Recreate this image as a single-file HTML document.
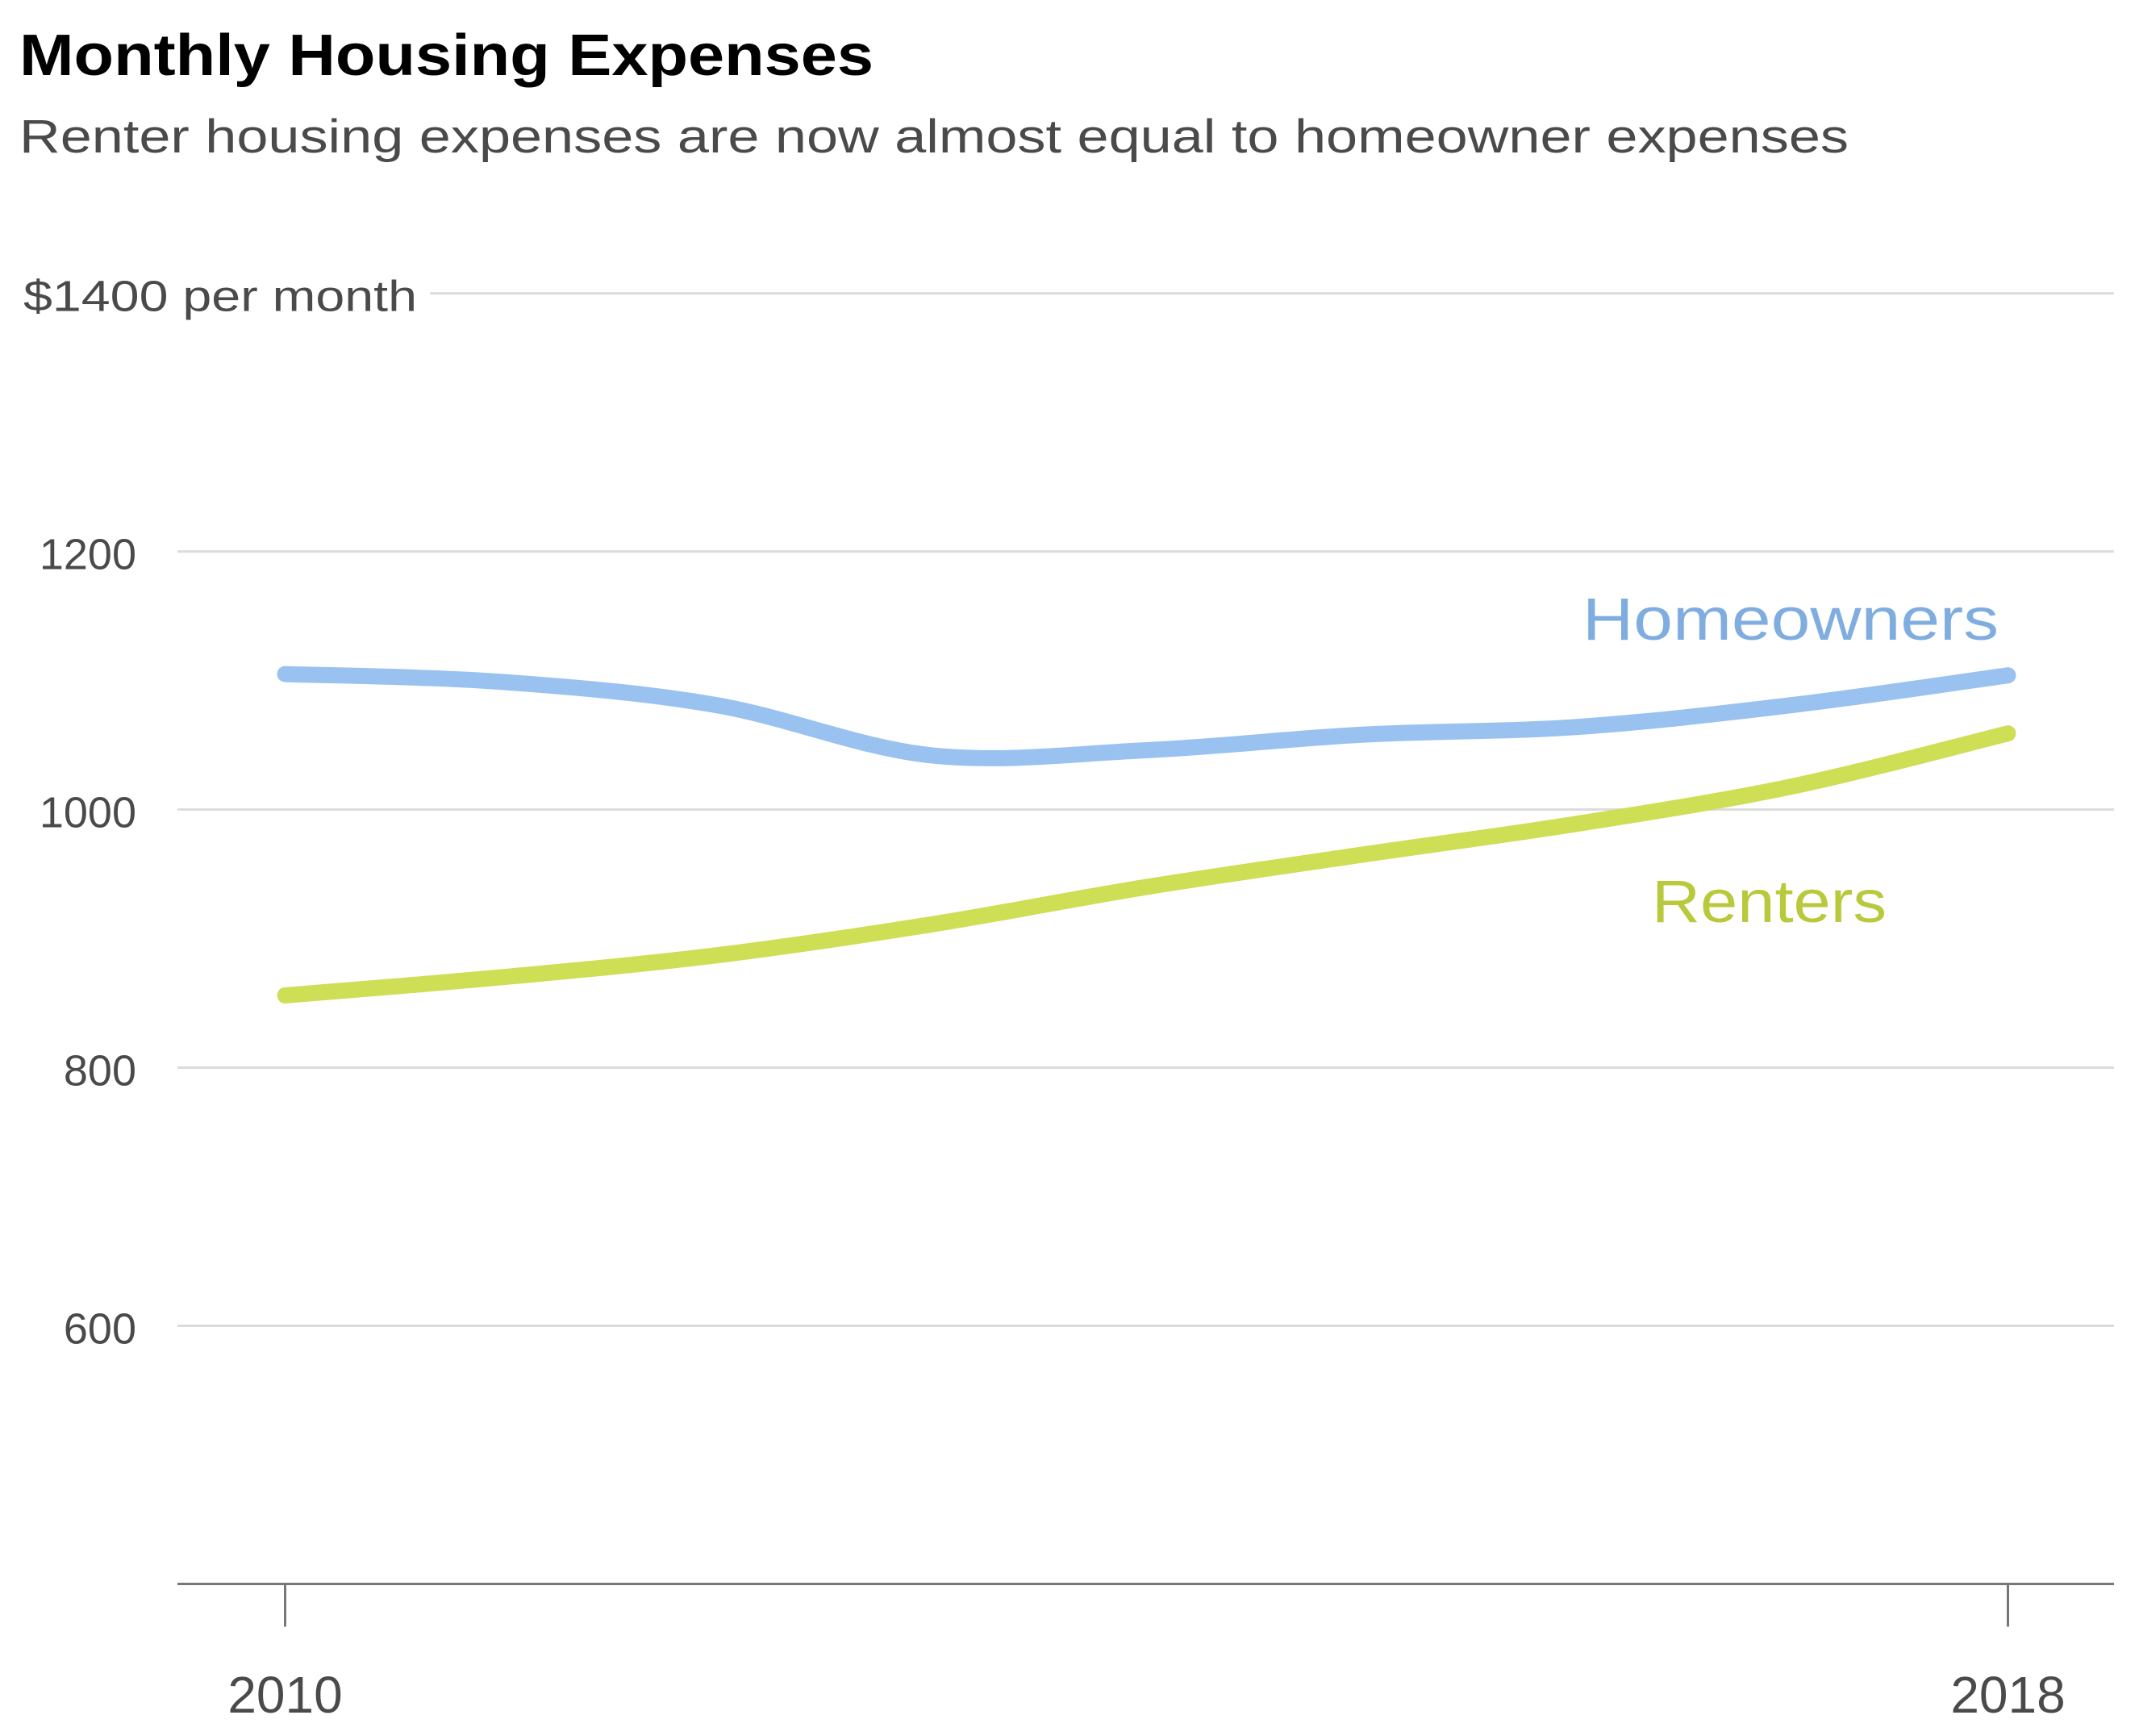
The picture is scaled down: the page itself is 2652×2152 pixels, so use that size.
<!DOCTYPE html>
<html><head><meta charset="utf-8"><style>
html,body{margin:0;padding:0;background:#fff;width:2652px;height:2152px;overflow:hidden}
svg{display:block;font-family:"Liberation Sans",sans-serif}
</style></head><body>
<svg id="chart" width="2652" height="2152" viewBox="0 0 2652 2152">
<text x="24" y="93" font-size="72" font-weight="bold" fill="#000" textLength="1059" lengthAdjust="spacingAndGlyphs">Monthly Housing Expenses</text>
<text x="24" y="189" font-size="58" fill="#4a4a4a" textLength="2268" lengthAdjust="spacingAndGlyphs">Renter housing expenses are now almost equal to homeowner expenses</text>
<g id="grid"></g>
<g id="yticks"></g>
<g id="xaxis"></g>
<g id="lines"></g>
<text x="1962" y="793" font-size="74" fill="#80addf" textLength="516" lengthAdjust="spacingAndGlyphs">Homeowners</text>
<text x="2048" y="1143" font-size="74" fill="#b9c93c" textLength="291" lengthAdjust="spacingAndGlyphs">Renters</text>
</svg>
<script>
const years = [2010,2011,2012,2013,2014,2015,2016,2017,2018];
const homeowners = [1105,1099,1081,1042,1046,1058,1064,1081,1104];
const renters = [856,870,887,911,940,965,989,1018,1059];
const yTicks = [600,800,1000,1200,1400];
const xTickLabels = [2010,2018];

const NS='http://www.w3.org/2000/svg';
const X0=353.5,X1=2489.5,Y0=1963.5,Y1=363.6;
function xs(v){return X0+(v-2010)/(2018-2010)*(X1-X0);}
function ys(v){return Y0+(v-400)/(1400-400)*(Y1-Y0);}
function mk(tag,attrs,parent){const e=document.createElementNS(NS,tag);for(const k in attrs)e.setAttribute(k,attrs[k]);parent.appendChild(e);return e;}

const grid=document.getElementById('grid'),yt=document.getElementById('yticks'),xa=document.getElementById('xaxis'),lines=document.getElementById('lines');
yTicks.forEach(v=>{
  const y=ys(v);
  const l=mk('line',{x1:v===1400?533:220,x2:2621,y1:y,y2:y,stroke:'#dcdcdc','stroke-width':3},grid);
  
  
  const t=mk('text',{x:v===1400?29:169,y:y+22,'font-size':54,fill:'#4a4a4a','text-anchor':v===1400?'start':'end'},yt);
  if(v===1400){t.setAttribute('textLength','488');t.setAttribute('lengthAdjust','spacingAndGlyphs');t.textContent='$1400 per month';}
  else t.textContent=String(v);
  
  
});
const ax=mk('line',{x1:220,x2:2621,y1:Y0,y2:Y0,stroke:'#777','stroke-width':3},xa);


xTickLabels.forEach(v=>{
  const x=xs(v);
  const tk=mk('line',{x1:x,x2:x,y1:Y0,y2:Y0+53,stroke:'#777','stroke-width':3},xa);
  
  
  const t=mk('text',{x:x,y:2123,'font-size':64,fill:'#4a4a4a','text-anchor':'middle'},xa);
  t.textContent=String(v);
  
  
});
function smooth(vals){
  const p=vals.map((v,i)=>[xs(years[i]),ys(v)]);
  let d='M'+p[0][0]+','+p[0][1];
  for(let i=0;i<p.length-1;i++){
    const a=p[Math.max(i-1,0)],b=p[i],c=p[i+1],e=p[Math.min(i+2,p.length-1)];
    const c1=[b[0]+(c[0]-a[0])/6,b[1]+(c[1]-a[1])/6],c2=[c[0]-(e[0]-b[0])/6,c[1]-(e[1]-b[1])/6];
    d+=' C'+c1+' '+c2+' '+c;
  }
  return d;
}
const h=mk('path',{d:smooth(homeowners),fill:'none',stroke:'#99c2f0','stroke-width':20,'stroke-linecap':'round'},lines);


const r=mk('path',{d:smooth(renters),fill:'none',stroke:'#cede55','stroke-width':20,'stroke-linecap':'round'},lines);


</script>
</body></html>
